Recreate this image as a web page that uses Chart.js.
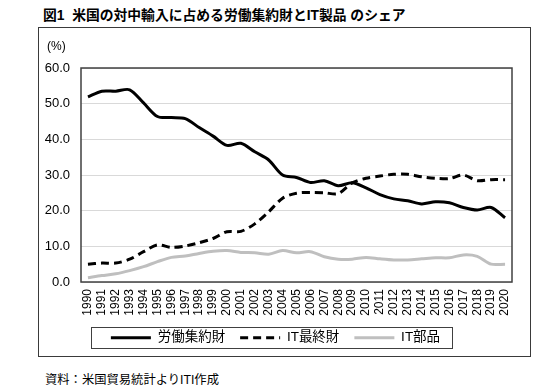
<!DOCTYPE html>
<html lang="ja">
<head>
<meta charset="utf-8">
<script src="https://cdn.jsdelivr.net/npm/chart.js@4.4.1/dist/chart.umd.min.js"></script>
<style>
    body {
        margin: 0;
        width: 551px;
        height: 390px;
        background: #fff;
        position: relative;
        overflow: hidden;
        font-family: "Liberation Sans", "Noto Sans CJK JP", sans-serif;
        color: #000;
    }
    #title {
        position: absolute;
        left: 43px;
        top: 4px;
        font-size: 13.8px;
        font-weight: bold;
        white-space: nowrap;
    }
    #frame {
        position: absolute;
        left: 38px;
        top: 27px;
        width: 491px;
        height: 328px;
        border: 1px solid #3a3a3a;
    }
    #unit {
        position: absolute;
        left: 8px;
        top: 11px;
        font-size: 12px;
        line-height: 14px;
    }
    #source {
        position: absolute;
        left: 45px;
        top: 370px;
        font-size: 12.3px;
        white-space: nowrap;
    }
</style>
</head>
<body>
<div id="title">図1&nbsp;&nbsp;米国の対中輸入に占める労働集約財とIT製品 のシェア</div>
<div id="frame">
    <canvas id="shareChart"></canvas>
    <div id="unit">(%)</div>
</div>
<div id="source">資料：米国貿易統計よりITI作成</div>

<script>
// Data (%)
const years = ['1990', '1991', '1992', '1993', '1994', '1995', '1996', '1997', '1998', '1999',
    '2000', '2001', '2002', '2003', '2004', '2005', '2006', '2007', '2008', '2009',
    '2010', '2011', '2012', '2013', '2014', '2015', '2016', '2017', '2018', '2019', '2020'];

const laborIntensive = [51.9, 53.5, 53.5, 53.9, 50.2, 46.4, 46.1, 45.8, 43.3, 40.9,
    38.3, 38.9, 36.5, 34.2, 30.0, 29.3, 27.9, 28.4, 27.0, 27.8,
    26.4, 24.5, 23.3, 22.8, 21.9, 22.5, 22.2, 20.9, 20.2, 20.9, 18.0];

const itFinal = [5.0, 5.3, 5.3, 6.4, 8.5, 10.4, 9.7, 10.1, 11.0, 12.2,
    14.1, 14.2, 16.3, 19.7, 23.5, 24.9, 25.1, 25.0, 24.8, 27.8,
    29.1, 29.7, 30.2, 30.2, 29.5, 29.1, 29.0, 30.0, 28.4, 28.7, 28.7];

const itParts = [1.2, 1.8, 2.3, 3.2, 4.3, 5.7, 6.9, 7.3, 8.0, 8.6,
    8.8, 8.3, 8.2, 7.8, 8.8, 8.2, 8.5, 7.1, 6.4, 6.4,
    6.9, 6.5, 6.2, 6.2, 6.5, 6.8, 6.8, 7.6, 7.2, 5.0, 5.0];

const seriesNames = ['労働集約財', 'IT最終財', 'IT部品'];

const sansFont = '"Liberation Sans", "Noto Sans CJK JP", sans-serif';

// Border round the plot area and round the legend
const boxesPlugin = {
    id: 'boxes',
    afterDatasetsDraw(chart) {
        const { ctx, chartArea: a } = chart;
        ctx.save();
        ctx.strokeStyle = '#404040';
        ctx.lineWidth = 1.5;
        ctx.strokeRect(a.left, a.top, a.right - a.left, a.bottom - a.top);
        ctx.restore();
    },
    afterDraw(chart) {
        const hb = chart.legend && chart.legend.legendHitBoxes;
        if (!hb || !hb.length) return;
        const first = hb[0];
        const last = hb[hb.length - 1];
        const ctx = chart.ctx;
        ctx.save();
        ctx.strokeStyle = '#404040';
        ctx.lineWidth = 1;
        const x0 = Math.round(first.left - 20) + 0.5;
        const x1 = Math.round(last.left + last.width + 12) + 0.5;
        const y0 = Math.round(first.top - 4) + 0.5;
        const y1 = Math.round(first.top + first.height + 3) + 0.5;
        ctx.strokeRect(x0, y0, x1 - x0, y1 - y0);
        ctx.restore();
    }
};

const chart = new Chart(document.getElementById('shareChart'), {
    type: 'line',
    data: {
        labels: years,
        datasets: [{
            label: seriesNames[0],
            data: laborIntensive,
            borderColor: '#000000',
            borderWidth: 3,
            pointRadius: 0,
            tension: 0.3
        }, {
            label: seriesNames[1],
            data: itFinal,
            borderColor: '#000000',
            borderWidth: 3,
            borderDash: [8, 5],
            pointRadius: 0,
            tension: 0.3
        }, {
            label: seriesNames[2],
            data: itParts,
            borderColor: '#bfbfbf',
            borderWidth: 3,
            pointRadius: 0,
            tension: 0.3
        }]
    },
    options: {
        responsive: true,
        maintainAspectRatio: false,
        animation: false,
        layout: {
            padding: { left: 0, right: 18, top: 40, bottom: 1.5 }
        },
        plugins: {
            legend: {
                position: 'bottom',
                labels: {
                    usePointStyle: true,
                    pointStyle: 'line',
                    pointStyleWidth: 40,
                    padding: 15,
                    color: '#000',
                    font: { size: 13.5, family: sansFont },
                    // legend samples take the dash of the dataset line
                    generateLabels: function (chart) {
                        const items = Chart.defaults.plugins.legend.labels.generateLabels(chart);
                        items.forEach(function (item) {
                            const ds = chart.data.datasets[item.datasetIndex];
                            item.lineDash = ds.borderDash || [];
                            item.lineWidth = ds.borderWidth;
                            item.strokeStyle = ds.borderColor;
                        });
                        return items;
                    }
                }
            },
            tooltip: { enabled: false }
        },
        scales: {
            x: {
                offset: true,
                grid: { display: false, drawTicks: false },
                border: { display: false },
                ticks: {
                    autoSkip: false,
                    minRotation: 90,
                    maxRotation: 90,
                    padding: 7,
                    color: '#000',
                    font: { size: 12, family: sansFont }
                },
                afterFit: function (scale) {
                    scale.height = 34;
                }
            },
            y: {
                min: 0,
                max: 60,
                grid: { color: '#d9d9d9', drawTicks: false },
                border: { display: false },
                ticks: {
                    stepSize: 10,
                    padding: 11,
                    color: '#000',
                    font: { size: 13, family: sansFont },
                    callback: function (value) {
                        return value.toFixed(1);
                    }
                },
                afterFit: function (scale) {
                    scale.width = 42;
                }
            }
        }
    },
    plugins: [boxesPlugin]
});
</script>
</body>
</html>
